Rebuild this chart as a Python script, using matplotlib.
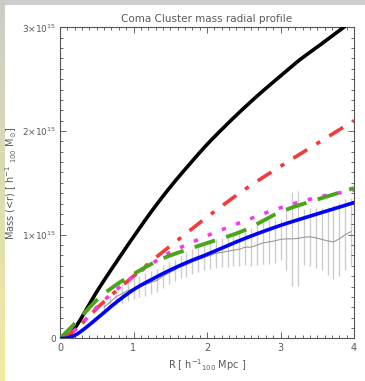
#!/usr/bin/env python3
"""Coma Cluster mass radial profile, model curves against the measured profile."""

import matplotlib

matplotlib.use("Agg")
import matplotlib.pyplot as plt
import numpy as np
from matplotlib.ticker import MultipleLocator

# model curves, R in h^-1_100 Mpc, mass in units of 1e15 h^-1_100 Msun
BLACK_R = [0.0, 0.1, 0.25, 0.5, 0.75, 1.0, 1.25, 1.5, 1.75, 2.0, 2.25, 2.5, 2.75, 3.0, 3.25, 3.5, 3.86]
BLACK_M = [0.0, 0.01, 0.15, 0.45, 0.72, 0.98, 1.23, 1.46, 1.67, 1.87, 2.05, 2.22, 2.38, 2.53, 2.68, 2.81, 3.0]

BLUE_R = [0.0, 0.1, 0.25, 0.5, 0.75, 1.0, 1.25, 1.5, 1.75, 2.0, 2.5, 3.0, 3.5, 4.0]
BLUE_M = [0.0, 0.005, 0.05, 0.19, 0.34, 0.47, 0.57, 0.66, 0.74, 0.81, 0.96, 1.09, 1.20, 1.31]

RED_R = [0.0, 0.1, 0.25, 0.5, 0.75, 1.0, 1.25, 1.5, 1.75, 2.0, 2.5, 3.0, 3.5, 4.0]
RED_M = [0.0, 0.03, 0.11, 0.29, 0.45, 0.60, 0.75, 0.89, 1.03, 1.17, 1.43, 1.66, 1.88, 2.10]

MAGENTA_R = [0.0, 0.1, 0.25, 0.5, 0.75, 1.0, 1.25, 1.5, 2.0, 2.5, 3.0, 3.5, 4.0]
MAGENTA_M = [0.0, 0.03, 0.11, 0.30, 0.46, 0.60, 0.72, 0.83, 0.99, 1.13, 1.26, 1.36, 1.43]

GREEN_R = [0.0, 0.1, 0.25, 0.5, 0.75, 1.0, 1.25, 1.5, 2.0, 2.5, 3.0, 3.5, 4.0]
GREEN_M = [0.0, 0.07, 0.18, 0.37, 0.51, 0.62, 0.72, 0.80, 0.92, 1.04, 1.22, 1.34, 1.45]

# measured profile with error bars
DATA_R = [0.60, 0.68, 0.76, 0.84, 0.92, 1.00, 1.08, 1.16, 1.24, 1.32, 1.40, 1.48,
          1.56, 1.64, 1.72, 1.80, 1.88, 1.96, 2.04, 2.12, 2.20, 2.28, 2.36, 2.44,
          2.52, 2.60, 2.68, 2.76, 2.84, 2.92, 3.00, 3.08, 3.16, 3.24, 3.32, 3.40,
          3.48, 3.56, 3.64, 3.72, 3.80, 3.88, 3.96]
DATA_M = [0.30, 0.35, 0.40, 0.43, 0.46, 0.48, 0.50, 0.52, 0.54, 0.56, 0.60, 0.63,
          0.66, 0.69, 0.71, 0.74, 0.76, 0.78, 0.80, 0.82, 0.83, 0.84, 0.85, 0.86,
          0.88, 0.88, 0.90, 0.92, 0.93, 0.94, 0.955, 0.96, 0.96, 0.965, 0.975, 0.98,
          0.97, 0.955, 0.94, 0.93, 0.96, 1.00, 1.03]
DATA_ERR = [0.06, 0.07, 0.08, 0.09, 0.10, 0.10, 0.10, 0.11, 0.11, 0.11, 0.11, 0.11,
            0.11, 0.11, 0.12, 0.12, 0.12, 0.12, 0.13, 0.14, 0.14, 0.15, 0.15, 0.16,
            0.17, 0.18, 0.19, 0.20, 0.21, 0.21, 0.20, 0.30, 0.45, 0.46, 0.27, 0.28,
            0.29, 0.30, 0.33, 0.36, 0.36, 0.34, 0.32]

Y_TICKS = [0, 1, 2, 3]
Y_TICK_LABELS = ["0", r"1$\times$10$^{15}$", r"2$\times$10$^{15}$", r"3$\times$10$^{15}$"]

TEXT_COLOR = "#5a5a5a"


def smooth(xs, ys, steps=12):
    # Catmull-Rom through the read points so the curves render smoothly
    p = np.column_stack([xs, ys]).astype(float)
    p = np.vstack([2 * p[0] - p[1], p, 2 * p[-1] - p[-2]])
    out = []
    t = np.linspace(0, 1, steps, endpoint=False)[:, None]
    for i in range(1, len(p) - 2):
        p0, p1, p2, p3 = p[i - 1], p[i], p[i + 1], p[i + 2]
        seg = 0.5 * ((2 * p1) + (-p0 + p2) * t
                     + (2 * p0 - 5 * p1 + 4 * p2 - p3) * t ** 2
                     + (-p0 + 3 * p1 - 3 * p2 + p3) * t ** 3)
        out.append(seg)
    out.append(p[-2][None, :])
    out = np.vstack(out)
    return out[:, 0], out[:, 1]


def add_backdrop(fig):
    # thin gray strip on top, gray-to-yellow strip down the left edge
    h, w = 381, 365
    img = np.ones((h, w, 3))
    img[:5, :, :] = np.array([0.81, 0.81, 0.81])
    top = np.array([0.80, 0.80, 0.78])
    bottom = np.array([0.94, 0.93, 0.62])
    t = np.linspace(0, 1, h)[:, None]
    img[:, :5, :] = (top * (1 - t) + bottom * t)[:, None, :]
    bg = fig.add_axes([0, 0, 1, 1], zorder=-1)
    bg.imshow(img, aspect="auto", interpolation="nearest")
    bg.axis("off")


def main():
    plt.rcParams["font.family"] = "DejaVu Sans"
    plt.rcParams["mathtext.fontset"] = "dejavusans"

    fig = plt.figure(figsize=(3.65, 3.81), dpi=100)
    add_backdrop(fig)
    ax = fig.add_axes([0.1644, 0.1118, 0.8055, 0.8165])
    ax.set_facecolor("white")

    ax.errorbar(DATA_R, DATA_M, yerr=DATA_ERR, fmt="none", ecolor="#cccccc",
                elinewidth=1.0, capsize=0, zorder=1)
    ax.plot(DATA_R, DATA_M, color="#999999", linewidth=0.8, zorder=2)

    ax.plot(*smooth(BLACK_R, BLACK_M), color="black", linewidth=2.6, zorder=3)
    ax.plot(*smooth(RED_R, RED_M), color="#f23b3b", linewidth=2.6,
            dashes=(4.5, 3.0, 1.2, 3.0), zorder=3)
    ax.plot(*smooth(MAGENTA_R, MAGENTA_M), color="#f03cf0", linewidth=2.6,
            dashes=(1.2, 3.0), zorder=3)
    ax.plot(*smooth(GREEN_R, GREEN_M), color="#4aa51a", linewidth=2.8,
            dashes=(5.5, 3.0), zorder=3)
    ax.plot(*smooth(BLUE_R, BLUE_M), color="#0000ff", linewidth=2.6, zorder=4)

    ax.set_xlim(0, 4)
    ax.set_ylim(0, 3)
    ax.xaxis.set_major_locator(MultipleLocator(1))
    ax.xaxis.set_minor_locator(MultipleLocator(0.1))
    ax.set_yticks(Y_TICKS)
    ax.set_yticklabels(Y_TICK_LABELS)
    ax.yaxis.set_minor_locator(MultipleLocator(0.1))

    ax.tick_params(which="both", direction="in", top=True, right=True,
                   color="#666666", width=0.7, labelcolor=TEXT_COLOR)
    ax.tick_params(which="major", length=4.5, labelsize=6.5, pad=3)
    ax.tick_params(which="minor", length=2.2)
    ax.tick_params(axis="x", labelsize=7)
    for spine in ax.spines.values():
        spine.set_color("#555555")
        spine.set_linewidth(0.8)

    ax.set_title("Coma Cluster mass radial profile", fontsize=7.5,
                 color=TEXT_COLOR, pad=4)
    ax.set_xlabel(r"R [ h$^{-1}$$_{100}$ Mpc ]", fontsize=7, color=TEXT_COLOR,
                  labelpad=3)
    ax.set_ylabel(r"Mass (<r) [ h$^{-1}$ $_{100}$ M$_{\odot}$]", fontsize=7,
                  color=TEXT_COLOR, labelpad=2)

    fig.savefig("out.png", dpi=100)
    plt.close(fig)


if __name__ == "__main__":
    main()
